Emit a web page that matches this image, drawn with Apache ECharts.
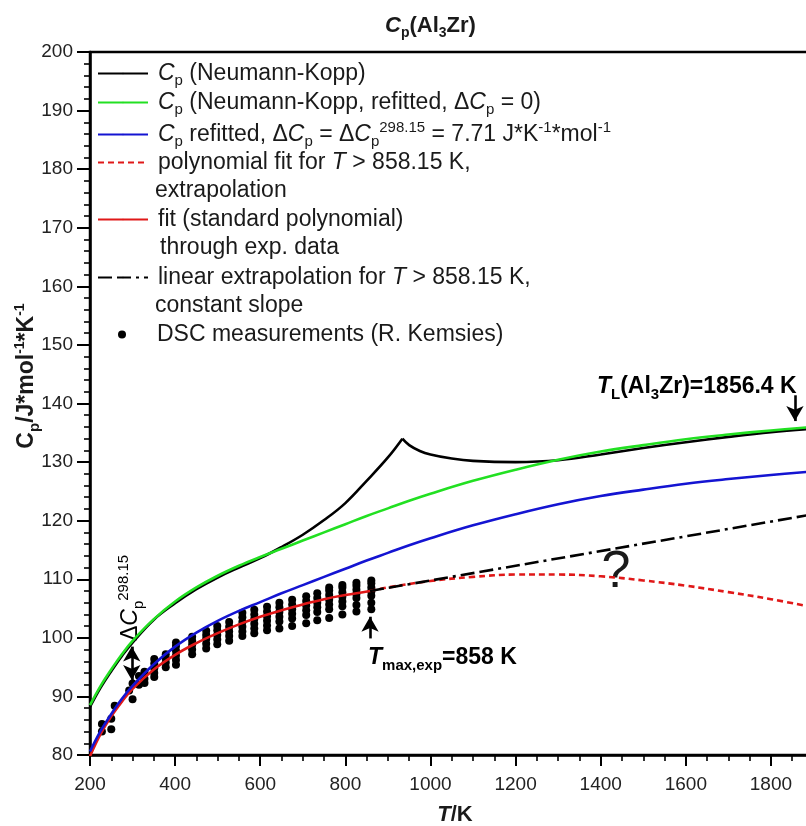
<!DOCTYPE html>
<html>
<head>
<meta charset="utf-8">
<script src="https://cdn.jsdelivr.net/npm/echarts@6/dist/echarts.min.js"></script>
<style>
  html, body { margin: 0; padding: 0; background: #fff; }
  #chart { width: 806px; height: 826px; }
</style>
</head>
<body>
<div id="chart"></div>
<script>
// ---- Heat capacity of Al3Zr, values in J/(mol K) ----

// Neumann-Kopp estimate, rising branch up to the cusp
const nkRiseT  = [200, 225, 250, 275, 300, 350, 400, 450, 500, 550, 600, 650, 700, 750, 800, 850, 900, 934];
const nkRiseCp = [88.2, 91.5, 94.3, 96.9, 99.2, 103.1, 105.9, 108.3, 110.3, 112.0, 113.6, 115.5, 117.6, 120.1, 123.0, 126.8, 130.8, 134.0];
// Neumann-Kopp estimate, branch after the cusp
const nkFallT  = [934, 950, 975, 1000, 1050, 1100, 1200, 1300, 1400, 1500, 1600, 1700, 1800, 1900];
const nkFallCp = [134.0, 132.9, 131.9, 131.3, 130.6, 130.2, 130.0, 130.3, 131.3, 132.4, 133.4, 134.3, 135.1, 135.7];

// Neumann-Kopp, refitted (dCp = 0)
const nkFitT  = [200, 225, 250, 275, 300, 350, 400, 450, 500, 550, 600, 650, 700, 750, 800, 850, 900, 950, 1000, 1100, 1200, 1300, 1400, 1500, 1600, 1700, 1800, 1900];
const nkFitCp = [88.5, 91.8, 94.6, 97.2, 99.5, 103.2, 106.2, 108.6, 110.6, 112.3, 113.8, 115.2, 116.6, 118.0, 119.4, 120.8, 122.1, 123.4, 124.6, 126.8, 128.7, 130.4, 131.8, 132.9, 133.9, 134.7, 135.4, 136.0];

// refitted with dCp = dCp(298.15) = 7.71
const refitT  = [200, 225, 250, 275, 300, 350, 400, 450, 500, 550, 600, 650, 700, 750, 800, 850, 900, 950, 1000, 1100, 1200, 1300, 1400, 1500, 1600, 1700, 1800, 1900];
const refitCp = [80.6, 84.1, 87.0, 89.6, 91.8, 95.5, 98.5, 100.9, 102.9, 104.6, 106.1, 107.6, 109.0, 110.4, 111.8, 113.2, 114.5, 115.8, 117.0, 119.2, 121.1, 122.8, 124.2, 125.3, 126.3, 127.1, 127.8, 128.4];

// standard polynomial fitted through the DSC data
const polyT  = [200, 225, 250, 275, 300, 350, 400, 450, 500, 550, 600, 650, 700, 750, 800, 858];
const polyCp = [79.8, 83.6, 86.6, 89.1, 91.3, 94.6, 97.1, 99.1, 100.8, 102.3, 103.6, 104.7, 105.7, 106.6, 107.3, 108.0];

// polynomial extrapolated above 858.15 K
const polyExtT  = [858, 900, 1000, 1100, 1200, 1300, 1400, 1500, 1600, 1700, 1800, 1900];
const polyExtCp = [108.0, 108.6, 109.7, 110.4, 110.8, 110.8, 110.5, 109.8, 108.9, 107.8, 106.6, 105.2];

// linear extrapolation above 858.15 K
const linExtT  = [858, 1900];
const linExtCp = [108.0, 121.1];

// DSC measurements: temperature columns and the readings at each
const dscT  = [228, 250, 258, 292, 300, 315, 328, 351, 378, 402, 440, 473, 499, 527, 558, 586, 616, 645, 675, 708, 734, 762, 793, 826, 861];
const dscCp = [
  [84.0, 85.3], [84.4, 86.2], [88.4], [91.0], [89.5, 92.2], [92.0, 93.5], [92.3, 93.0, 94.2],
  [93.3, 94.0, 94.8, 95.6, 96.4], [95.0, 95.8, 96.5, 97.2], [95.4, 96.2, 97.0, 97.8, 98.6, 99.2],
  [97.2, 98.0, 98.8, 99.5, 100.2], [98.2, 99.0, 99.8, 100.5, 101.2], [98.9, 99.7, 100.5, 101.3, 102.0],
  [99.5, 100.3, 101.1, 101.9, 102.7], [100.3, 101.1, 101.9, 102.7, 103.5, 104.3],
  [100.8, 101.6, 102.4, 103.2, 104.0, 104.8], [101.3, 102.1, 102.9, 103.7, 104.5, 105.3],
  [101.6, 102.8, 103.6, 104.4, 105.2, 106.0], [102.0, 103.3, 104.1, 104.9, 105.7, 106.5],
  [102.5, 103.9, 104.7, 105.5, 106.3, 107.1], [103.0, 104.4, 105.2, 106.0, 106.8, 107.6],
  [103.4, 104.9, 105.7, 106.5, 107.3, 108.1, 108.6], [104.0, 105.4, 106.2, 107.0, 107.8, 108.6, 109.0],
  [104.5, 105.6, 106.8, 107.5, 108.2, 108.9, 109.4], [104.9, 106.0, 107.2, 107.9, 108.6, 109.3, 109.8]
];

// annotation arrows: [T, Cp at tail, Cp at head]
const dCpArrow  = [298.15, 92.8, 98.5];
const tMaxArrow = [858, 99.9, 103.6];
const tLArrow   = [1856.4, 141.4, 137.0];

// axis ranges
const xTicks = { min: 200, max: 1900, step: 200 };
const yTicks = { min: 80, max: 200, step: 10 };

// ---- helpers ----
const FONT = '"Liberation Sans", Arial, Helvetica, sans-serif';
const pairs = (xs, ys) => xs.map((x, i) => [x, ys[i]]);
const dscData = [];
dscT.forEach((t, i) => dscCp[i].forEach(v => dscData.push([t, v])));

const C_BLACK = '#000000', C_GREEN = '#22e022', C_BLUE = '#1414d2', C_RED = '#e01818';
const INK = '#1a1a1a';

const legendRich = {
  g:  { width: 5 },
  g2: { width: 26 },
  n:  { fontFamily: FONT, fontSize: 23, color: INK, lineHeight: 28 },
  i:  { fontFamily: FONT, fontSize: 23, color: INK, fontStyle: 'italic', lineHeight: 28 },
  sb: { fontFamily: FONT, fontSize: 15, color: INK, verticalAlign: 'bottom', height: 13 },
  sp: { fontFamily: FONT, fontSize: 15, color: INK, verticalAlign: 'top', height: 14 }
};

const boldRich = {
  b:  { fontFamily: FONT, fontSize: 23, fontWeight: 'bold', color: INK, lineHeight: 28 },
  bi: { fontFamily: FONT, fontSize: 23, fontWeight: 'bold', fontStyle: 'italic', color: INK, lineHeight: 28 },
  bs: { fontFamily: FONT, fontSize: 15, fontWeight: 'bold', color: INK, verticalAlign: 'bottom', height: 13 }
};

const NAMES = {
  nk:     'Cp (Neumann-Kopp)',
  nkFit:  'Cp (Neumann-Kopp, refitted, dCp = 0)',
  refit:  'Cp refitted, dCp = dCp298.15 = 7.71 J*K-1*mol-1',
  polyEx: 'polynomial fit for T > 858.15 K, extrapolation',
  poly:   'fit (standard polynomial) through exp. data',
  linEx:  'linear extrapolation for T > 858.15 K, constant slope',
  dsc:    'DSC measurements (R. Kemsies)'
};

const LEGEND_TEXT = {};
LEGEND_TEXT[NAMES.nk]     = '{g| }{i|C}{sb|p}{n| (Neumann-Kopp)}';
LEGEND_TEXT[NAMES.nkFit]  = '{g| }{i|C}{sb|p}{n| (Neumann-Kopp, refitted, Δ}{i|C}{sb|p}{n| = 0)}';
LEGEND_TEXT[NAMES.refit]  = '{g| }{i|C}{sb|p}{n| refitted, Δ}{i|C}{sb|p}{n| = Δ}{i|C}{sb|p}{sp|298.15}{n| = 7.71 J*K}{sp|-1}{n|*mol}{sp|-1}';
LEGEND_TEXT[NAMES.polyEx] = '{g| }{n|polynomial fit for }{i|T}{n| > 858.15 K,}';
LEGEND_TEXT[NAMES.poly]   = '{g| }{n|fit (standard polynomial)}';
LEGEND_TEXT[NAMES.linEx]  = '{g| }{n|linear extrapolation for }{i|T}{n| > 858.15 K,}';
LEGEND_TEXT[NAMES.dsc]    = '{g2| }{n|DSC measurements (R. Kemsies)}';

// one legend block per row, so two-line entries keep the icon on the first line
const legendRows = [
  [NAMES.nk, 73], [NAMES.nkFit, 102], [NAMES.refit, 131], [NAMES.polyEx, 162],
  [NAMES.poly, 219], [NAMES.linEx, 277], [NAMES.dsc, 334]
];
const legends = legendRows.map(([name, cy]) => {
  const isDot = name === NAMES.dsc;
  return {
    data: [name],
    left: isDot ? 118 : 97,
    top: cy - 11,
    orient: 'vertical',
    padding: 0,
    itemWidth: isDot ? 8 : 50,
    itemHeight: isDot ? 8 : 2,
    selectedMode: false,
    formatter: n => LEGEND_TEXT[n],
    textStyle: { fontFamily: FONT, fontSize: 23, color: INK, rich: legendRich }
  };
});

const lineSeries = (name, xs, ys, color, dash, extra) => Object.assign({
  type: 'line',
  name: name,
  data: pairs(xs, ys),
  symbol: 'none',
  smooth: 0.4,
  silent: true,
  lineStyle: { color: color, width: 2.6, type: dash || 'solid' },
  itemStyle: { color: color },
  z: 3
}, extra || {});

const chart = echarts.init(document.getElementById('chart'), null, { renderer: 'canvas' });

chart.setOption({
  animation: false,
  backgroundColor: '#ffffff',
  title: {
    text: '{bi|C}{bs|p}{b|(Al}{bs|3}{b|Zr)}',
    left: 380,
    top: 8,
    textStyle: { rich: {
      b:  { fontFamily: FONT, fontSize: 22, fontWeight: 'bold', color: INK, lineHeight: 26 },
      bi: { fontFamily: FONT, fontSize: 22, fontWeight: 'bold', fontStyle: 'italic', color: INK, lineHeight: 26 },
      bs: { fontFamily: FONT, fontSize: 14, fontWeight: 'bold', color: INK, verticalAlign: 'bottom', height: 12 }
    } }
  },
  grid: {
    left: 90, top: 52, right: -7.5, bottom: 71,
    outerBoundsMode: 'none',
    containLabel: false,
    show: true, borderColor: '#000', borderWidth: 2.5, backgroundColor: 'transparent'
  },
  legend: legends,
  xAxis: {
    type: 'value',
    min: xTicks.min, max: xTicks.max, interval: xTicks.step,
    axisLine: { show: true, onZero: false, lineStyle: { color: '#000', width: 2.5 } },
    axisTick: { show: true, length: 11, lineStyle: { color: '#000', width: 2 } },
    minorTick: { show: true, splitNumber: 4, length: 6, lineStyle: { color: '#000', width: 1.6 } },
    splitLine: { show: false },
    axisLabel: { fontFamily: FONT, fontSize: 19, color: '#222', margin: 20, showMaxLabel: false, formatter: v => String(v) }
  },
  yAxis: {
    type: 'value',
    min: yTicks.min, max: yTicks.max, interval: yTicks.step,
    axisLine: { show: true, onZero: false, lineStyle: { color: '#000', width: 2.5 } },
    axisTick: { show: true, length: 13, lineStyle: { color: '#000', width: 2 } },
    minorTick: { show: true, splitNumber: 5, length: 6, lineStyle: { color: '#000', width: 1.6 } },
    splitLine: { show: false },
    axisLabel: { fontFamily: FONT, fontSize: 19, color: '#222', margin: 17, formatter: v => String(v) }
  },
  series: [
    {
      type: 'scatter',
      name: NAMES.dsc,
      data: dscData,
      symbol: 'circle',
      symbolSize: 8,
      itemStyle: { color: '#000', opacity: 1 },
      silent: true,
      z: 2
    },
    lineSeries(NAMES.poly, polyT, polyCp, C_RED, 'solid'),
    lineSeries(NAMES.polyEx, polyExtT, polyExtCp, C_RED, [6, 4]),
    lineSeries(NAMES.linEx, linExtT, linExtCp, C_BLACK, [14, 5, 14, 5, 3, 5], { smooth: false }),
    lineSeries(NAMES.refit, refitT, refitCp, C_BLUE, 'solid'),
    lineSeries(NAMES.nk, nkRiseT, nkRiseCp, C_BLACK, 'solid'),
    lineSeries(NAMES.nk, nkFallT, nkFallCp, C_BLACK, 'solid'),
    lineSeries(NAMES.nkFit, nkFitT, nkFitCp, C_GREEN, 'solid', {
      markLine: {
        symbolSize: [13, 15],
        data: [
          [{ coord: [dCpArrow[0], dCpArrow[1]], symbol: 'arrow' }, { coord: [dCpArrow[0], dCpArrow[2]], symbol: 'arrow' }],
          [{ coord: [tMaxArrow[0], tMaxArrow[1]], symbol: 'none' }, { coord: [tMaxArrow[0], tMaxArrow[2]], symbol: 'arrow' }],
          [{ coord: [tLArrow[0], tLArrow[1]], symbol: 'none' }, { coord: [tLArrow[0], tLArrow[2]], symbol: 'arrow' }]
        ],
        lineStyle: { color: '#000', width: 2.6, type: 'solid' },
        itemStyle: { color: '#000' },
        label: { show: false },
        emphasis: { disabled: true },
        silent: true,
        animation: false
      }
    })
  ],
  graphic: [
    // y axis name
    {
      type: 'text', x: 27, y: 376, rotation: Math.PI / 2,
      style: {
        text: '{bi|C}{bs|p}{b|/J*mol}{bp|-1}{b|*K}{bp|-1}',
        align: 'center', verticalAlign: 'middle',
        rich: {
          b:  { fontFamily: FONT, fontSize: 23, fontWeight: 'bold', fill: INK, lineHeight: 27 },
          bi: { fontFamily: FONT, fontSize: 23, fontWeight: 'bold', fill: INK, lineHeight: 27 },
          bs: { fontFamily: FONT, fontSize: 15, fontWeight: 'bold', fill: INK, verticalAlign: 'bottom', height: 12 },
          bp: { fontFamily: FONT, fontSize: 14, fontWeight: 'bold', fill: INK, verticalAlign: 'top', height: 13 }
        }
      }
    },
    // x axis name
    {
      type: 'text', x: 455, y: 815,
      style: {
        text: '{bi|T}{b|/K}',
        align: 'center', verticalAlign: 'middle',
        rich: {
          b:  { fontFamily: FONT, fontSize: 22, fontWeight: 'bold', fill: INK },
          bi: { fontFamily: FONT, fontSize: 22, fontWeight: 'bold', fontStyle: 'italic', fill: INK }
        }
      }
    },
    // continuation lines of two-line legend entries
    { type: 'text', x: 155, y: 191, style: { text: 'extrapolation', font: '23px ' + FONT, fill: INK, verticalAlign: 'middle' } },
    { type: 'text', x: 160, y: 248, style: { text: 'through exp. data', font: '23px ' + FONT, fill: INK, verticalAlign: 'middle' } },
    { type: 'text', x: 155, y: 306, style: { text: 'constant slope', font: '23px ' + FONT, fill: INK, verticalAlign: 'middle' } },
    // liquidus label
    {
      type: 'text', x: 597, y: 387,
      style: { text: '{bi|T}{bs|L}{b|(Al}{bs|3}{b|Zr)=1856.4 K}', verticalAlign: 'middle', rich: boldRich }
    },
    // last measured temperature
    {
      type: 'text', x: 368, y: 658,
      style: { text: '{bi|T}{bs|max,exp}{b|=858 K}', verticalAlign: 'middle', rich: boldRich }
    },
    // offset between the curves at 298.15 K
    {
      type: 'text', x: 131, y: 598, rotation: Math.PI / 2,
      style: { text: '{n|Δ}{i|C}{sb|p}{sp|298.15}', align: 'center', verticalAlign: 'middle', rich: legendRich }
    },
    // open question about the high temperature trend
    {
      type: 'text', x: 616, y: 573,
      style: { text: '?', font: '52px ' + FONT, fill: INK, align: 'center', verticalAlign: 'middle' }
    }
  ]
});
</script>
</body>
</html>
